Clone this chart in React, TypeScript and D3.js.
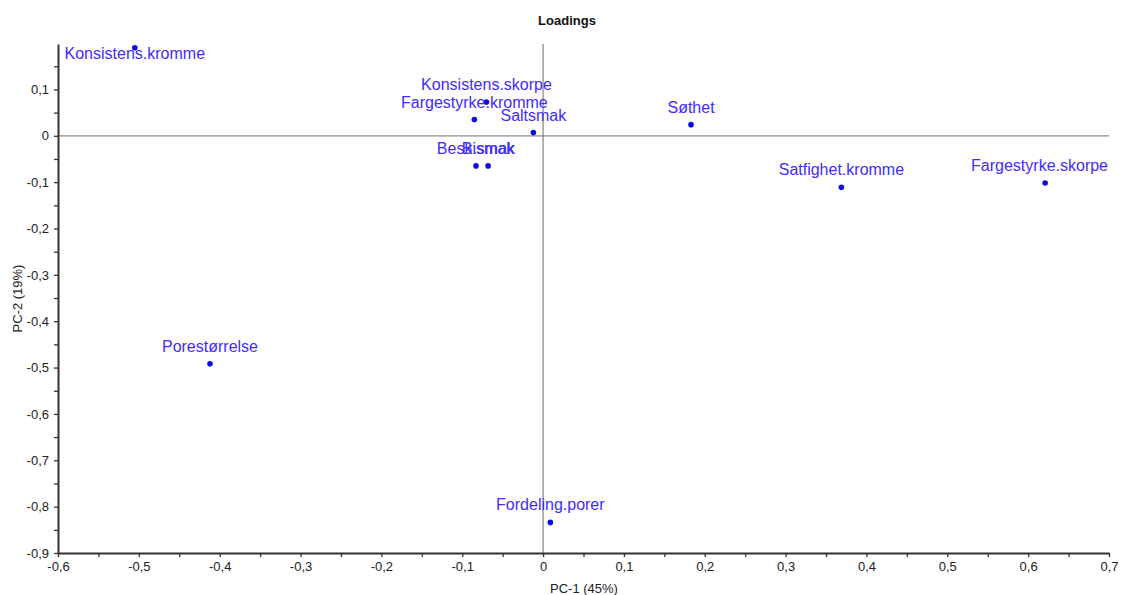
import React, { useEffect, useRef } from "react";
import * as d3 from "d3";

// PCA loadings: variable names and their PC-1 / PC-2 coordinates
const variables = [
  "Konsistens.kromme",
  "Konsistens.skorpe",
  "Fargestyrke.kromme",
  "Saltsmak",
  "Besk.smak",
  "Bismak",
  "Søthet",
  "Satfighet.kromme",
  "Fargestyrke.skorpe",
  "Porestørrelse",
  "Fordeling.porer",
];
const pc1 = [-0.505, -0.07, -0.085, -0.012, -0.083, -0.068, 0.183, 0.369, 0.621, -0.412, 0.009];
const pc2 = [0.19, 0.073, 0.035, 0.007, -0.065, -0.065, 0.024, -0.111, -0.102, -0.492, -0.834];

const xMajorTicks = [-0.6, -0.5, -0.4, -0.3, -0.2, -0.1, 0, 0.1, 0.2, 0.3, 0.4, 0.5, 0.6, 0.7];
const yMajorTicks = [-0.9, -0.8, -0.7, -0.6, -0.5, -0.4, -0.3, -0.2, -0.1, 0, 0.1];

const W = 1123;
const H = 595;
const plot = { left: 58, right: 1109, top: 44, bottom: 553 };

const fmt = (v: number) => {
  const s = d3.format(".1f")(v).replace(".", ",").replace("−", "-");
  return s === "0,0" || s === "-0,0" ? "0" : s;
};

export default function App() {
  const ref = useRef<SVGSVGElement | null>(null);

  useEffect(() => {
    const svg = d3.select(ref.current);
    svg.selectAll("*").remove();

    const x = d3.scaleLinear().domain([-0.6, 0.7]).range([plot.left, plot.right]);
    const y = d3.scaleLinear().domain([-0.9, 0.198]).range([plot.bottom, plot.top]);

    const font = "'Liberation Sans', Arial, sans-serif";

    // title
    svg
      .append("text")
      .attr("x", 567)
      .attr("y", 25)
      .attr("text-anchor", "middle")
      .attr("font-family", font)
      .attr("font-weight", "bold")
      .attr("font-size", 13)
      .attr("fill", "#111")
      .text("Loadings");

    // zero reference lines
    svg
      .append("line")
      .attr("x1", plot.left)
      .attr("x2", plot.right)
      .attr("y1", y(0))
      .attr("y2", y(0))
      .attr("stroke", "#8a8a8a")
      .attr("stroke-width", 1.2);
    svg
      .append("line")
      .attr("x1", x(0))
      .attr("x2", x(0))
      .attr("y1", plot.top)
      .attr("y2", plot.bottom)
      .attr("stroke", "#6a6a6a")
      .attr("stroke-width", 1);

    const minorX = d3.range(-0.55, 0.7, 0.1).map((v) => +v.toFixed(2));
    const minorY = d3.range(-0.85, 0.2, 0.1).map((v) => +v.toFixed(2));

    const styleAxis = (g: d3.Selection<SVGGElement, unknown, null, undefined>) => {
      g.select(".domain").attr("stroke", "#333").attr("stroke-width", 2);
      g.selectAll(".tick line").attr("stroke", "#333").attr("stroke-width", 1.3);
      g.selectAll(".tick text")
        .attr("font-family", font)
        .attr("font-size", 13)
        .attr("fill", "#222");
    };

    // x axis
    const gx = svg
      .append("g")
      .attr("transform", `translate(0,${plot.bottom})`)
      .call(
        d3
          .axisBottom(x)
          .tickValues(xMajorTicks)
          .tickSize(4)
          .tickSizeOuter(0)
          .tickPadding(5)
          .tickFormat((d) => fmt(d as number))
      );
    styleAxis(gx);
    const gxm = svg
      .append("g")
      .attr("transform", `translate(0,${plot.bottom})`)
      .call(d3.axisBottom(x).tickValues(minorX).tickSize(4).tickSizeOuter(0).tickFormat(() => ""));
    gxm.select(".domain").remove();
    gxm.selectAll(".tick line").attr("stroke", "#333").attr("stroke-width", 1.3);

    // y axis
    const gy = svg
      .append("g")
      .attr("transform", `translate(${plot.left},0)`)
      .call(
        d3
          .axisLeft(y)
          .tickValues(yMajorTicks)
          .tickSize(4)
          .tickSizeOuter(0)
          .tickPadding(5)
          .tickFormat((d) => fmt(d as number))
      );
    styleAxis(gy);
    const gym = svg
      .append("g")
      .attr("transform", `translate(${plot.left},0)`)
      .call(d3.axisLeft(y).tickValues(minorY).tickSize(4).tickSizeOuter(0).tickFormat(() => ""));
    gym.select(".domain").remove();
    gym.selectAll(".tick line").attr("stroke", "#333").attr("stroke-width", 1.3);

    // axis titles
    svg
      .append("text")
      .attr("x", 584)
      .attr("y", 593)
      .attr("text-anchor", "middle")
      .attr("font-family", font)
      .attr("font-size", 13)
      .attr("fill", "#222")
      .text("PC-1 (45%)");
    svg
      .append("text")
      .attr("transform", `translate(22,${(plot.top + plot.bottom) / 2}) rotate(-90)`)
      .attr("text-anchor", "middle")
      .attr("font-family", font)
      .attr("font-size", 13)
      .attr("fill", "#222")
      .text("PC-2 (19%)");

    const data = variables.map((name, i) => ({ name, px: pc1[i], py: pc2[i] }));

    // points
    svg
      .append("g")
      .selectAll("circle")
      .data(data)
      .join("circle")
      .attr("cx", (d) => x(d.px))
      .attr("cy", (d) => y(d.py))
      .attr("r", 2.8)
      .attr("fill", "#0a0ae6");

    // labels above points, kept inside the plot area
    const labels = svg
      .append("g")
      .selectAll("text")
      .data(data)
      .join("text")
      .attr("x", (d) => x(d.px))
      .attr("y", (d) => Math.max(y(d.py) - 12, plot.top + 15))
      .attr("text-anchor", "middle")
      .attr("font-family", font)
      .attr("font-size", 16)
      .attr("fill", "#3f2cff")
      .text((d) => d.name);

    labels.each(function (d) {
      const el = this as SVGTextElement;
      const w = el.getComputedTextLength();
      const cx = Math.min(Math.max(x(d.px), plot.left + 4 + w / 2), plot.right - 1 - w / 2);
      el.setAttribute("x", String(cx));
    });
  }, []);

  return (
    <svg
      ref={ref}
      width={W}
      height={H}
      style={{ position: "absolute", left: 0, top: 0, background: "#fff" }}
    />
  );
}
